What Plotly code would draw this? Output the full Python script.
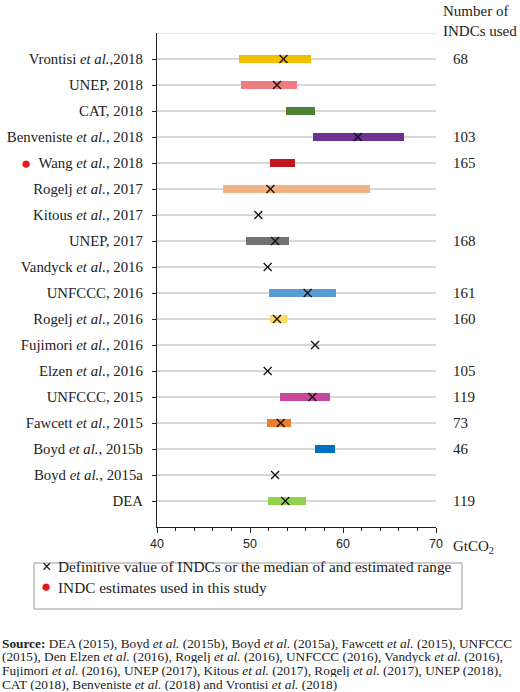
import plotly.graph_objects as go

labels = ["Vrontisi <i>et al.</i>,2018", "UNEP, 2018", "CAT, 2018", "Benveniste <i>et al.</i>, 2018",
          "Wang <i>et al.</i>, 2018", "Rogelj <i>et al.</i>, 2017", "Kitous <i>et al.</i>, 2017", "UNEP, 2017",
          "Vandyck <i>et al.</i>, 2016", "UNFCCC, 2016", "Rogelj <i>et al.</i>, 2016", "Fujimori <i>et al.</i>, 2016",
          "Elzen <i>et al.</i>, 2016", "UNFCCC, 2015", "Fawcett <i>et al.</i>, 2015", "Boyd <i>et al.</i>, 2015b",
          "Boyd <i>et al.</i>, 2015a", "DEA"]
low = [48.8, 49.0, 53.9, 56.8, 52.2, 47.1, None, 49.6, None, 52.0, 52.1, None, None, 53.2, 51.8, 57.0, None, 51.9]
high = [56.6, 55.0, 57.0, 66.6, 54.8, 62.9, None, 54.2, None, 59.3, 54.0, None, None, 58.6, 54.4, 59.1, None, 56.0]
median = [53.6, 52.9, None, 61.6, None, 52.2, 50.9, 52.7, 51.9, 56.2, 52.9, 57.0, 51.9, 56.7, 53.3, None, 52.7, 53.8]
n_indcs = ["68", "", "", "103", "165", "", "", "168", "", "161", "160", "", "105", "119", "73", "46", "", "119"]
colors = ["#F5BE00", "#EE7B80", "#4E8236", "#6B3193", "#C0161E", "#F4B183", None, "#767171", None, "#5B9BD5",
          "#FFD966", None, None, "#C6489B", "#ED7D31", "#0070C0", None, "#92D050"]
source_lines = [
    "<b>Source:</b> DEA (2015), Boyd <i>et al.</i> (2015b), Boyd <i>et al.</i> (2015a), Fawcett <i>et al.</i> (2015), UNFCCC",
    "(2015), Den Elzen <i>et al.</i> (2016), Rogelj <i>et al.</i> (2016), UNFCCC (2016), Vandyck <i>et al.</i> (2016),",
    "Fujimori <i>et al.</i> (2016), UNEP (2017), Kitous <i>et al.</i> (2017), Rogelj <i>et al.</i> (2017), UNEP (2018),",
    "CAT (2018), Benveniste <i>et al.</i> (2018) and Vrontisi <i>et al.</i> (2018)",
]

n = len(labels)
ypos = [n - 1 - i for i in range(n)]

serif = "Liberation Serif"
sans = "Liberation Sans"

L, R, T, B = 157, 436, 33, 527


def px(x):
    return (x - L) / (R - L)


def py(y):
    return (B - y) / (B - T)


fig = go.Figure()

bi = [i for i in range(n) if low[i] is not None]
fig.add_trace(go.Bar(
    orientation="h",
    y=[ypos[i] for i in bi],
    base=[low[i] for i in bi],
    x=[high[i] - low[i] for i in bi],
    width=0.28,
    marker=dict(color=[colors[i] for i in bi], line=dict(width=0)),
    showlegend=False, hoverinfo="skip"))

mi = [i for i in range(n) if median[i] is not None]
fig.add_trace(go.Scatter(
    x=[median[i] for i in mi], y=[ypos[i] for i in mi], mode="markers",
    marker=dict(symbol="x-thin", size=8, line=dict(width=1.3, color="#111")),
    showlegend=False, hoverinfo="skip"))

# top gridline
fig.add_shape(type="line", xref="x", yref="y", x0=40, x1=70, y0=18, y1=18,
              line=dict(color="#D9D9D9", width=1.5), layer="below")

for i in range(n):
    if n_indcs[i]:
        fig.add_annotation(x=px(451), xref="paper", y=ypos[i], yref="y", text=n_indcs[i],
                           showarrow=False, xanchor="left", font=dict(family=serif, size=15, color="#222"))

fig.add_annotation(x=px(441), xref="paper", y=py(1), yref="paper",
                   text="Number of<br>INDCs used", showarrow=False, xanchor="left", yanchor="top",
                   align="left", font=dict(family=serif, size=15, color="#222"))

fig.add_annotation(x=px(451), xref="paper", y=py(536), yref="paper", yanchor="top",
                   text="GtCO<sub>2</sub>", showarrow=False, xanchor="left",
                   font=dict(family=serif, size=15, color="#222"))

# red dot next to Wang label
fig.add_annotation(x=px(19), xref="paper", y=ypos[4], yref="y", text="●",
                   showarrow=False, font=dict(family=sans, size=17, color="#E8141B"))

# legend box
fig.add_shape(type="rect", xref="paper", yref="paper",
              x0=px(34), x1=px(462), y0=py(609), y1=py(563),
              line=dict(color="#999", width=1))
fig.add_annotation(x=px(40), xref="paper", y=py(577), yref="paper", text="×",
                   showarrow=False, font=dict(family=sans, size=16, color="#111"))
fig.add_annotation(x=px(56), xref="paper", y=py(577), yref="paper", xanchor="left",
                   text="Definitive value of INDCs or the median of and estimated range",
                   showarrow=False, font=dict(family=serif, size=15.3, color="#222"))
fig.add_annotation(x=px(39), xref="paper", y=py(598), yref="paper", text="●",
                   showarrow=False, font=dict(family=sans, size=17, color="#E8141B"))
fig.add_annotation(x=px(56), xref="paper", y=py(598), yref="paper", xanchor="left",
                   text="INDC estimates used in this study",
                   showarrow=False, font=dict(family=serif, size=15.3, color="#222"))

for k, line in enumerate(source_lines):
    fig.add_annotation(x=px(1), xref="paper", y=py(643 + 13.7 * k), yref="paper", xanchor="left",
                       yanchor="middle", align="left", text=line, showarrow=False, height=13,
                       borderpad=0,
                       font=dict(family=serif, size=13.3, color="#222"))

fig.update_layout(
    width=520, height=692, margin=dict(l=L, r=520 - R, t=T, b=692 - B, autoexpand=False),
    paper_bgcolor="white", plot_bgcolor="white", bargap=0,
    xaxis=dict(range=[40, 70], dtick=10, tick0=40, showgrid=False, zeroline=False,
               showline=True, linecolor="#222", linewidth=1.3, automargin=False,
               ticks="outside", ticklen=5, tickcolor="#222", tickwidth=1.2,
               minor=dict(dtick=2, ticks="outside", ticklen=3, tickcolor="#222"),
               tickfont=dict(family=sans, size=12.5, color="#222")),
    yaxis=dict(range=[-1, 18], tickvals=ypos, ticktext=labels, showgrid=True, gridcolor="#D9D9D9",
               gridwidth=1.5, zeroline=False, showline=True, linecolor="#222", linewidth=1.3,
               automargin=False,
               ticks="outside", ticklen=4, tickcolor="#222", tickwidth=1.2, ticklabelstandoff=6,
               tickfont=dict(family=serif, size=14.8, color="#222")),
)

fig.write_html("out.html")
